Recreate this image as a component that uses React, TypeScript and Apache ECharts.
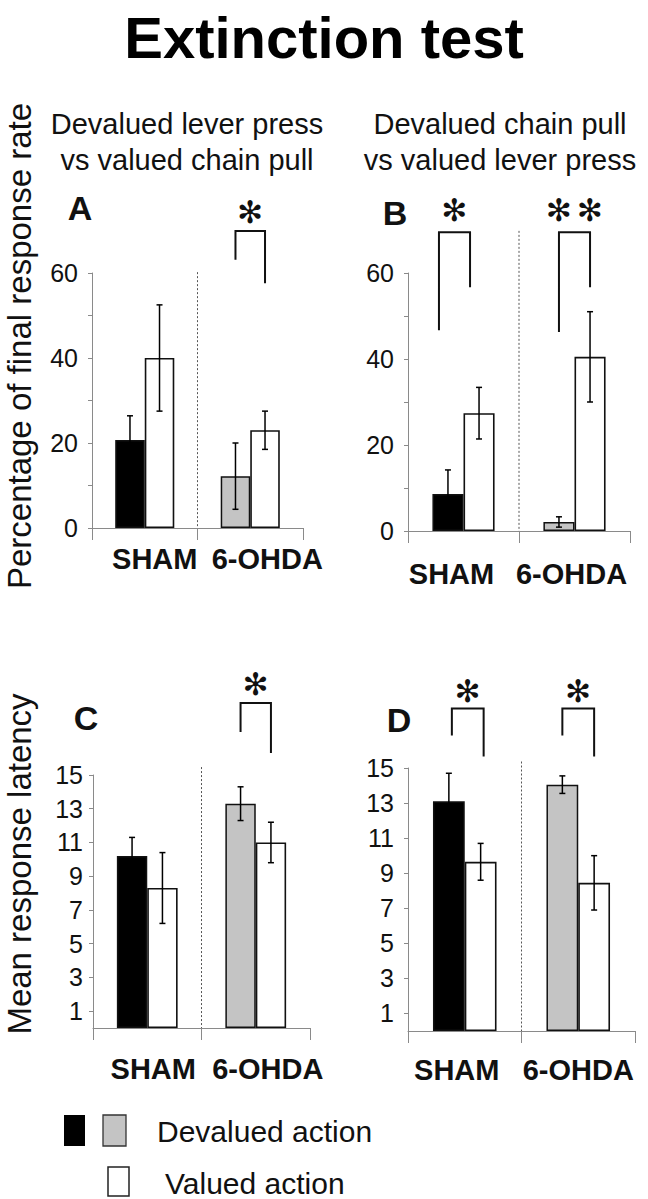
import React, { useEffect, useRef } from 'react';
import * as echarts from 'echarts';

// ---------- DATA ----------
const categories = ['SHAM', '6-OHDA'];

// Panel A: devalued lever press vs valued chain pull (% of final response rate)
const aDevalued = [20.7, 12.2];
const aDevaluedErr = [5.7, 7.8];
const aValued = [40.0, 23.0];
const aValuedErr = [12.5, 4.5];

// Panel B: devalued chain pull vs valued lever press (% of final response rate)
const bDevalued = [8.6, 2.1];
const bDevaluedErr = [5.6, 1.2];
const bValued = [27.4, 40.5];
const bValuedErr = [6.0, 10.5];

// Panel C: mean response latency
const cDevalued = [10.2, 13.3];
const cDevaluedErr = [1.1, 1.0];
const cValued = [8.3, 11.0];
const cValuedErr = [2.1, 1.2];

// Panel D: mean response latency
const dDevalued = [13.1, 14.05];
const dDevaluedErr = [1.6, 0.5];
const dValued = [9.65, 8.45];
const dValuedErr = [1.05, 1.55];

const rateLabelTicks = [0, 20, 40, 60];
const latencyTicks = [1, 3, 5, 7, 9, 11, 13, 15];

// significance brackets: [category, left leg bottom, top, right leg bottom, star level, stars]
const aBrackets = [[1, 63.1, 69.9, 57.6, 74.4, 1]];
const bBrackets = [
  [0, 46.7, 69.5, 56.7, 74.7, 1],
  [1, 46.3, 69.5, 56.7, 74.7, 2],
];
const cBrackets = [[1, 17.55, 19.27, 16.3, 20.4, 1]];
const dBrackets = [
  [0, 16.86, 18.4, 15.66, 19.4, 1],
  [1, 16.86, 18.4, 15.66, 19.4, 1],
];

// ---------- STYLE ----------
const FONT = '"Liberation Sans", Arial, Helvetica, sans-serif';
const INK = '#111';
const GRAY = '#c4c4c4';
const AXIS = '#8a8a8a';
const HALF = 0.14; // half bar width as fraction of band

function errRender(params: any, api: any) {
  const idx = api.value(0);
  const v = api.value(1);
  const e = api.value(2);
  const side = api.value(3);
  const band = api.size([1, 0])[0];
  const c = api.coord([idx, v]);
  const x = c[0] + side * band * HALF;
  const yt = api.coord([idx, v + e])[1];
  const yb = api.coord([idx, Math.max(v - e, 0)])[1];
  const cap = 3;
  const st = { stroke: '#000', lineWidth: 1.5 };
  return {
    type: 'group',
    children: [
      { type: 'line', shape: { x1: x, y1: yt, x2: x, y2: yb }, style: st },
      { type: 'line', shape: { x1: x - cap, y1: yt, x2: x + cap, y2: yt }, style: st },
      { type: 'line', shape: { x1: x - cap, y1: yb, x2: x + cap, y2: yb }, style: st },
    ],
  };
}

function bracketRender(nudge: number[]) {
  return (params: any, api: any) => {
    const idx = api.value(0);
    const band = api.size([1, 0])[0];
    const cx = api.coord([idx, 0])[0] + (nudge[params.dataIndex] || 0);
    const xl = cx - band * HALF;
    const xr = cx + band * HALF;
    const yl = api.coord([idx, api.value(1)])[1];
    const yt = api.coord([idx, api.value(2)])[1];
    const yr = api.coord([idx, api.value(3)])[1];
    const ys = api.coord([idx, api.value(4)])[1];
    const n = api.value(5);
    const starStyle = {
      text: '✻',
      fontSize: 31,
      fontFamily: '"DejaVu Sans", sans-serif',
      fill: INK,
      align: 'center',
      verticalAlign: 'middle',
    };
    const stars =
      n === 2
        ? [
            { type: 'text', x: xl, y: ys, style: starStyle },
            { type: 'text', x: xr, y: ys, style: starStyle },
          ]
        : [{ type: 'text', x: (xl + xr) / 2, y: ys, style: starStyle }];
    return {
      type: 'group',
      children: [
        {
          type: 'polyline',
          shape: { points: [[xl, yl], [xl, yt], [xr, yt], [xr, yr]] },
          style: { stroke: INK, lineWidth: 2, fill: null },
        },
        ...stars,
      ],
    };
  };
}

function dividerRender(params: any, api: any) {
  const top = api.value(0);
  const c0 = api.coord([0, 0]);
  const c1 = api.coord([1, top]);
  const x = (c0[0] + c1[0]) / 2;
  return {
    type: 'line',
    shape: { x1: x, y1: c1[1], x2: x, y2: c0[1] },
    style: { stroke: '#555', lineWidth: 1, lineDash: [2, 2] },
  };
}

function panelSeries(
  i: number,
  dev: number[],
  devErr: number[],
  val: number[],
  valErr: number[],
  brackets: number[][],
  dividerTop: number,
  nudge: number[],
) {
  const devColors = ['#000', GRAY];
  return [
    {
      type: 'bar',
      xAxisIndex: i,
      yAxisIndex: i,
      barWidth: '28%',
      barGap: '0%',
      data: dev.map((v, k) => ({
        value: v,
        itemStyle: { color: devColors[k], borderColor: '#111', borderWidth: 1.5 },
      })),
    },
    {
      type: 'bar',
      xAxisIndex: i,
      yAxisIndex: i,
      barWidth: '28%',
      barGap: '0%',
      itemStyle: { color: '#fff', borderColor: '#111', borderWidth: 1.6 },
      data: val,
    },
    {
      type: 'custom',
      xAxisIndex: i,
      yAxisIndex: i,
      renderItem: errRender,
      data: [
        ...dev.map((v, k) => [k, v, devErr[k], -1]),
        ...val.map((v, k) => [k, v, valErr[k], 1]),
      ],
      z: 5,
    },
    {
      type: 'custom',
      xAxisIndex: i,
      yAxisIndex: i,
      renderItem: bracketRender(nudge),
      clip: false,
      data: brackets,
      z: 5,
    },
    {
      type: 'custom',
      xAxisIndex: i,
      yAxisIndex: i,
      renderItem: dividerRender,
      clip: false,
      data: [[dividerTop]],
      z: 1,
    },
  ];
}

const grids = [
  { left: 92, top: 273, width: 211, height: 255 },
  { left: 408, top: 273, width: 222, height: 258 },
  { left: 93, top: 775, width: 217, height: 253 },
  { left: 408, top: 768, width: 227, height: 263 },
];
const labelMargins = [16, 28, 26, 24];
// horizontal nudges of category labels (px, + = right)
const labelShift = [
  [10, 17],
  [-12, -3],
  [6, 12],
  [-8, 0],
];

function xAxis(i: number) {
  const base = { fontSize: 29, fontWeight: 'bold', fontFamily: FONT, color: INK };
  const rich: any = {};
  labelShift[i].forEach((s, k) => {
    rich['s' + k] = { ...base, padding: s >= 0 ? [0, 0, 0, 2 * s] : [0, -2 * s, 0, 0] };
  });
  return {
    type: 'category',
    gridIndex: i,
    data: categories,
    axisLine: { show: true, lineStyle: { color: AXIS, width: 1 } },
    axisTick: { show: true, length: 12, interval: 0, lineStyle: { color: AXIS } },
    axisLabel: {
      show: true,
      interval: 0,
      margin: labelMargins[i],
      ...base,
      formatter: (v: string, k: number) => `{s${k}|${v}}`,
      rich,
    },
    splitLine: { show: false },
  };
}

function rateAxis(i: number, shiftUp: boolean) {
  return {
    type: 'value',
    gridIndex: i,
    min: 0,
    max: 60,
    interval: 10,
    axisLine: { show: true, lineStyle: { color: AXIS } },
    axisTick: { show: true, length: 4, lineStyle: { color: AXIS } },
    axisLabel: {
      customValues: rateLabelTicks,
      fontSize: 25,
      fontFamily: FONT,
      color: INK,
      margin: 14,
      padding: shiftUp ? [0, 0, 16, 0] : 0,
    },
    splitLine: { show: false },
  };
}

function latencyAxis(i: number, margin: number) {
  return {
    type: 'value',
    gridIndex: i,
    min: 0,
    max: 15,
    axisLine: { show: true, lineStyle: { color: AXIS } },
    axisTick: { show: true, length: 4, customValues: latencyTicks, lineStyle: { color: AXIS } },
    axisLabel: {
      customValues: latencyTicks,
      fontSize: 25,
      fontFamily: FONT,
      color: INK,
      margin,
    },
    splitLine: { show: false },
  };
}

const txt = (text: string, x: number, y: number, size: number, extra: any = {}) => ({
  type: 'text',
  x,
  y,
  style: {
    text,
    fontSize: size,
    fontFamily: FONT,
    fill: INK,
    align: 'center',
    verticalAlign: 'middle',
    lineHeight: size,
    ...extra,
  },
});

const vText = (text: string, x: number, y: number, size: number) => ({
  type: 'text',
  x,
  y,
  rotation: Math.PI / 2,
  style: {
    text,
    fontSize: size,
    lineHeight: size,
    fontFamily: FONT,
    fill: INK,
    align: 'center',
    verticalAlign: 'middle',
  },
});

const graphics = [
  txt('Extinction test', 324, 37, 58, { fontWeight: 'bold', fill: '#000' }),
  txt('Devalued lever press', 187, 124, 29),
  txt('vs valued chain pull', 187, 160, 29),
  txt('Devalued chain pull', 500, 124, 29),
  txt('vs valued lever press', 500, 160, 29),
  txt('A', 80, 208, 34, { fontWeight: 'bold' }),
  txt('B', 395, 213, 34, { fontWeight: 'bold' }),
  txt('C', 86, 718, 34, { fontWeight: 'bold' }),
  txt('D', 399, 720, 34, { fontWeight: 'bold' }),
  vText('Percentage of final response rate', 19, 346, 33),
  vText('Mean response latency', 19, 864, 33),
  { type: 'rect', shape: { x: 64, y: 1115, width: 21, height: 31 }, style: { fill: '#000' } },
  {
    type: 'rect',
    shape: { x: 103, y: 1115, width: 23, height: 31 },
    style: { fill: GRAY, stroke: '#333', lineWidth: 1.3 },
  },
  txt('Devalued action', 157, 1131, 30, { align: 'left' }),
  {
    type: 'rect',
    shape: { x: 108, y: 1167, width: 21, height: 29 },
    style: { fill: '#fff', stroke: '#222', lineWidth: 1.5 },
  },
  txt('Valued action', 165, 1183, 30, { align: 'left' }),
];

const option: any = {
  animation: false,
  backgroundColor: '#fff',
  grid: grids.map((g) => ({ ...g, containLabel: false, outerBoundsMode: 'none' })),
  xAxis: [0, 1, 2, 3].map((i) => xAxis(i)),
  yAxis: [rateAxis(0, true), rateAxis(1, false), latencyAxis(2, 10), latencyAxis(3, 14)],
  series: [
    ...panelSeries(0, aDevalued, aDevaluedErr, aValued, aValuedErr, aBrackets, 60.2, [0]),
    ...panelSeries(1, bDevalued, bDevaluedErr, bValued, bValuedErr, bBrackets, 69.8, [-9, 0]),
    ...panelSeries(2, cDevalued, cDevaluedErr, cValued, cValuedErr, cBrackets, 15.47, [0]),
    ...panelSeries(3, dDevalued, dDevaluedErr, dValued, dValuedErr, dBrackets, 15.37, [3, 0]),
  ],
  graphic: graphics,
};

export default function App() {
  const ref = useRef<HTMLDivElement>(null);
  useEffect(() => {
    document.body.style.margin = '0';
    const chart = echarts.init(ref.current!, null, { renderer: 'svg' });
    chart.setOption(option);
    return () => chart.dispose();
  }, []);
  return <div ref={ref} style={{ width: 648, height: 1199 }} />;
}
